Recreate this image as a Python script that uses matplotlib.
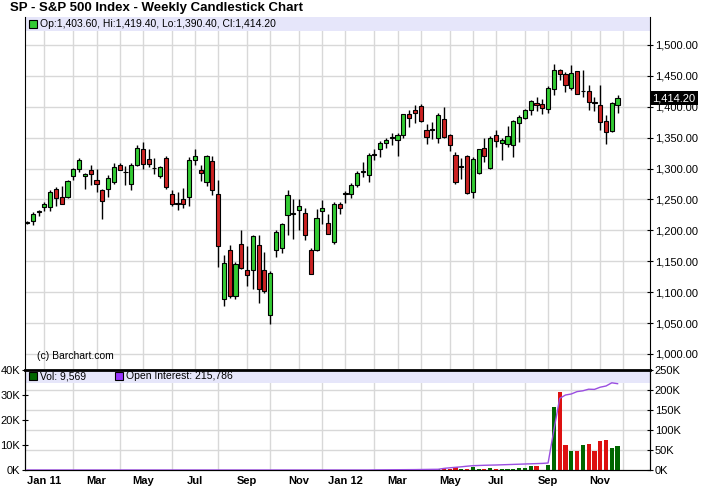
import matplotlib.pyplot as plt
from matplotlib.patches import Rectangle
from matplotlib.ticker import FuncFormatter
import numpy as np
import pandas as pd

plt.rcParams['font.family'] = ['Liberation Sans', 'DejaVu Sans']

# weekly bars, SP (Dec 2012 contract), Dec 2010 - Nov 2012
dates = pd.date_range('2010-12-13', periods=103, freq='W-MON')

opens = [1212.5, 1214.4, 1229.5, 1238.6, 1238.6, 1267.2, 1254.3, 1254.3, 1288.8, 1300.0,
         1287.7, 1298.5, 1281.2, 1265.0, 1267.7, 1277.5, 1305.0, 1294.7, 1275.8, 1305.0,
         1332.5, 1315.8, 1300.6, 1288.2, 1317.9, 1258.6, 1243.8, 1251.6, 1254.3, 1314.7,
         1297.4, 1278.6, 1312.0, 1258.6, 1088.2, 1169.0, 1093.6, 1178.7, 1135.6, 1135.6,
         1176.0, 1135.6, 1062.8, 1168.0, 1170.7, 1224.6, 1227.5, 1233.8, 1228.9, 1169.0,
         1169.0, 1231.6, 1212.2, 1181.4, 1243.5, 1258.5, 1259.6, 1273.1, 1294.7, 1290.4,
         1322.0, 1330.9, 1342.2, 1350.0, 1347.0, 1355.1, 1389.1, 1394.0, 1400.5, 1363.2,
         1362.1, 1348.7, 1381.0, 1354.0, 1321.7, 1302.5, 1320.6, 1262.4, 1293.6, 1334.1,
         1301.7, 1354.0, 1342.2, 1340.6, 1337.9, 1374.5, 1382.1, 1394.5, 1406.9, 1404.2,
         1397.2, 1429.6, 1459.2, 1452.8, 1431.2, 1457.6, 1425.0, 1425.3, 1406.8, 1402.6,
         1376.7, 1361.0, 1403.6]
highs = [1215.0, 1230.0, 1232.5, 1246.7, 1265.0, 1269.4, 1271.5, 1281.2, 1301.7, 1316.8,
         1293.1, 1305.5, 1300.0, 1267.7, 1289.3, 1309.3, 1309.8, 1304.0, 1309.8, 1337.9,
         1342.7, 1330.9, 1317.9, 1303.9, 1320.0, 1265.0, 1262.0, 1268.0, 1318.0, 1330.9,
         1305.5, 1321.7, 1320.0, 1281.2, 1159.9, 1176.0, 1149.1, 1200.3, 1174.5, 1193.3,
         1192.2, 1165.3, 1134.0, 1200.3, 1212.0, 1265.0, 1250.0, 1251.6, 1236.5, 1172.0,
         1235.4, 1248.9, 1227.3, 1246.2, 1246.2, 1264.0, 1276.9, 1296.3, 1310.9, 1325.5,
         1330.9, 1344.9, 1350.3, 1357.8, 1357.8, 1389.1, 1395.6, 1403.4, 1405.3, 1372.9,
         1375.6, 1390.2, 1399.3, 1356.7, 1327.6, 1317.0, 1321.7, 1319.0, 1332.5, 1350.3,
         1352.4, 1363.2, 1350.3, 1368.6, 1378.3, 1386.4, 1397.2, 1410.7, 1416.1, 1411.8,
         1433.3, 1468.9, 1461.9, 1456.5, 1467.3, 1458.5, 1460.3, 1435.0, 1416.1, 1435.0,
         1386.4, 1408.0, 1419.4]
lows = [1210.0, 1209.5, 1223.0, 1232.1, 1232.0, 1239.2, 1242.4, 1252.6, 1282.3, 1294.7,
        1267.7, 1273.1, 1262.4, 1219.2, 1254.3, 1275.8, 1297.4, 1274.0, 1265.0, 1303.9,
        1300.1, 1302.8, 1291.0, 1285.0, 1267.7, 1240.0, 1232.7, 1237.0, 1239.7, 1305.5,
        1280.1, 1271.5, 1257.0, 1141.0, 1077.6, 1089.8, 1088.2, 1138.2, 1109.7, 1105.9,
        1082.7, 1099.0, 1048.2, 1157.2, 1163.7, 1193.3, 1186.8, 1201.4, 1185.2, 1129.0,
        1167.0, 1211.1, 1193.8, 1178.7, 1227.3, 1244.6, 1253.2, 1269.4, 1286.6, 1278.5,
        1314.7, 1319.0, 1334.1, 1337.9, 1320.6, 1348.7, 1367.5, 1374.0, 1375.6, 1340.0,
        1347.6, 1341.0, 1349.2, 1328.7, 1275.8, 1283.4, 1259.6, 1252.9, 1292.0, 1310.9,
        1300.1, 1335.2, 1314.7, 1335.2, 1319.0, 1343.3, 1381.0, 1386.4, 1393.4, 1389.1,
        1390.2, 1418.8, 1444.1, 1424.2, 1427.9, 1420.4, 1416.1, 1394.5, 1393.4, 1362.1,
        1339.5, 1359.4, 1390.4]
closes = [1213.0, 1227.3, 1230.0, 1242.4, 1262.9, 1253.2, 1243.5, 1279.6, 1300.1, 1314.7,
          1290.9, 1292.0, 1275.8, 1247.8, 1285.5, 1302.8, 1298.5, 1294.0, 1306.6, 1334.1,
          1308.2, 1308.2, 1300.2, 1302.8, 1269.4, 1242.4, 1243.3, 1242.4, 1313.6, 1320.0,
          1293.6, 1320.0, 1266.1, 1174.5, 1147.5, 1093.6, 1146.4, 1139.9, 1128.6, 1190.6,
          1105.9, 1102.2, 1131.8, 1196.6, 1211.1, 1258.0, 1226.5, 1239.2, 1192.2, 1130.2,
          1220.8, 1237.0, 1194.9, 1243.5, 1237.0, 1259.0, 1273.1, 1293.6, 1295.2, 1321.7,
          1323.0, 1341.6, 1346.0, 1350.5, 1355.0, 1388.0, 1382.3, 1390.5, 1377.8, 1351.3,
          1363.0, 1386.2, 1350.8, 1337.4, 1277.5, 1303.0, 1261.3, 1316.3, 1330.9, 1320.1,
          1350.3, 1344.9, 1346.0, 1352.4, 1376.7, 1383.7, 1395.6, 1409.1, 1403.7, 1398.8,
          1431.2, 1460.3, 1452.8, 1435.0, 1455.4, 1421.5, 1425.6, 1408.0, 1406.2, 1375.6,
          1359.4, 1406.4, 1414.2]

volume = [0] * 70 + [200, 300, 700, 300, 1100, 300, 400, 1300, 300, 300,
                     700, 300, 300, 400, 600, 800, 800, 1600, 1600, 100,
                     2000, 25300, 31300, 10000, 7700, 7700, 10000, 10400, 7700, 11700,
                     12000, 8800, 9569]
open_interest = [0] * 60 + [300, 400, 500, 600, 700, 800, 900, 1000, 1200, 1400,
                            1600, 1750, 4000, 5500, 6700, 8000, 9500, 10800, 11300, 11800,
                            12200, 12500, 13000, 13500, 14000, 14500, 15000, 15500, 16000, 16500,
                            17500, 100000, 179000, 187500, 190000, 196000, 198000, 202000, 201500, 207000,
                            210000, 218000, 215786]

month_labels = ['Jan 11', 'Mar', 'May', 'Jul', 'Sep', 'Nov',
                'Jan 12', 'Mar', 'May', 'Jul', 'Sep', 'Nov']

GREEN = '#33cc33'
RED = '#cc2222'

x = np.arange(len(dates))
o = np.array(opens)
c = np.array(closes)
up = c >= o

# first weekly bar of each month -> vertical grid
all_weeks = pd.date_range(dates[0], periods=108, freq='W-MON')
month_start = [i for i in range(1, len(all_weeks)) if all_weeks[i].month != all_weeks[i - 1].month]
label_pos = month_start[::2][:len(month_labels)]

fig = plt.figure(figsize=(7.02, 4.90), dpi=100)
W, H = 702, 490
ax = fig.add_axes([25 / W, 1 - 369 / H, 625 / W, 352 / H])
axv = fig.add_axes([25 / W, 1 - 470 / H, 625 / W, 100 / H])
axoi = axv.twinx()

xlim = (-0.35, 107.6)

# price panel
ax.vlines(x, lows, highs, color='black', lw=1, zorder=2)
body = np.maximum(np.abs(c - o), 1.2)
ax.bar(x, body, bottom=np.minimum(o, c), width=0.72,
       color=np.where(up, GREEN, RED), edgecolor='black', linewidth=0.8, zorder=3)
ax.set_xlim(xlim)
ax.set_ylim(975.7, 1545.3)
ax.set_yticks(np.arange(1000, 1501, 50))
ax.yaxis.set_major_formatter(FuncFormatter(lambda v, p: f'{v:,.2f}'))
ax.yaxis.tick_right()
ax.set_xticks(month_start)
ax.set_xticklabels([])
ax.tick_params(axis='x', length=0)
ax.tick_params(axis='y', direction='inout', length=5, width=0.8, labelsize=8, pad=1)
ax.grid(True, color='#d8d8d8', lw=1)
ax.set_axisbelow(True)
for s in ['top', 'bottom']:
    ax.spines[s].set_visible(False)
ax.add_patch(Rectangle((0, 1 - 14 / 352), 1, 14 / 352, transform=ax.transAxes,
                       facecolor='#e6e6fa', edgecolor='none', zorder=1))

ax.text(1.004, closes[-1], f'{closes[-1]:,.2f}', transform=ax.get_yaxis_transform(),
        color='white', fontsize=8, va='center', ha='left',
        bbox=dict(facecolor='black', edgecolor='none', pad=1.5))

# volume panel
axv.bar(x, volume, width=0.72, color=np.where(up, '#006600', '#dd1111'), zorder=3)
axv.set_xlim(xlim)
axv.set_ylim(0, 40000)
axv.set_yticks(np.arange(0, 40001, 10000))
axv.set_yticklabels([f'{v // 1000}K' for v in range(0, 40001, 10000)])
axv.set_yticks([8000, 16000, 24000, 32000], minor=True)
axv.set_xticks(label_pos)
axv.set_xticklabels(month_labels, fontweight='bold')
axv.set_xticks(month_start, minor=True)
axv.grid(True, which='minor', color='#d8d8d8', lw=1)
axv.set_axisbelow(True)
axv.tick_params(axis='y', which='major', direction='inout', length=5, width=0.8, labelsize=8, pad=1)
axv.tick_params(axis='y', which='minor', length=0)
axv.tick_params(axis='x', which='both', length=0, labelsize=8, pad=4)
axv.spines['top'].set_linewidth(2)
axv.add_patch(Rectangle((0, 1 - 13 / 100), 1, 13 / 100, transform=axv.transAxes,
                        facecolor='#e6e6fa', edgecolor='none', zorder=1))

axoi.plot(x, open_interest, color='#9a4ee0', lw=1, zorder=4)
axoi.set_ylim(0, 250000)
axoi.set_yticks(np.arange(0, 250001, 50000))
axoi.set_yticklabels([f'{v // 1000}K' for v in range(0, 250001, 50000)])
axoi.tick_params(axis='y', direction='inout', length=5, width=0.8, labelsize=8, pad=1)
axoi.spines['top'].set_visible(False)

# texts
fig.text(10 / W, 1 - 8 / H, 'SP - S&P 500 Index - Weekly Candlestick Chart',
         fontsize=9.5, fontweight='bold', va='center', ha='left')
fig.patches.append(Rectangle((29 / W, 1 - 28 / H), 8 / W, 8 / H, transform=fig.transFigure,
                             facecolor=GREEN, edgecolor='black', lw=0.8, figure=fig))
fig.text(40 / W, 1 - 24 / H, 'Op:1,403.60, Hi:1,419.40, Lo:1,390.40, Cl:1,414.20',
         fontsize=7.5, va='center', ha='left')
fig.text(37 / W, 1 - 356 / H, '(c) Barchart.com', fontsize=7.5, va='center', ha='left')
fig.patches.append(Rectangle((29 / W, 1 - 380 / H), 8 / W, 8 / H, transform=fig.transFigure,
                             facecolor='#006600', edgecolor='black', lw=0.8, figure=fig))
fig.text(40 / W, 1 - 376 / H, 'Vol: 9,569', fontsize=7.5, va='center', ha='left')
fig.patches.append(Rectangle((115 / W, 1 - 380 / H), 8 / W, 8 / H, transform=fig.transFigure,
                             facecolor='#9933ff', edgecolor='black', lw=0.8, figure=fig))
fig.text(126 / W, 1 - 376 / H, 'Open Interest: 215,786', fontsize=7.5, va='center', ha='left')

fig.savefig('out.png', dpi=100)
